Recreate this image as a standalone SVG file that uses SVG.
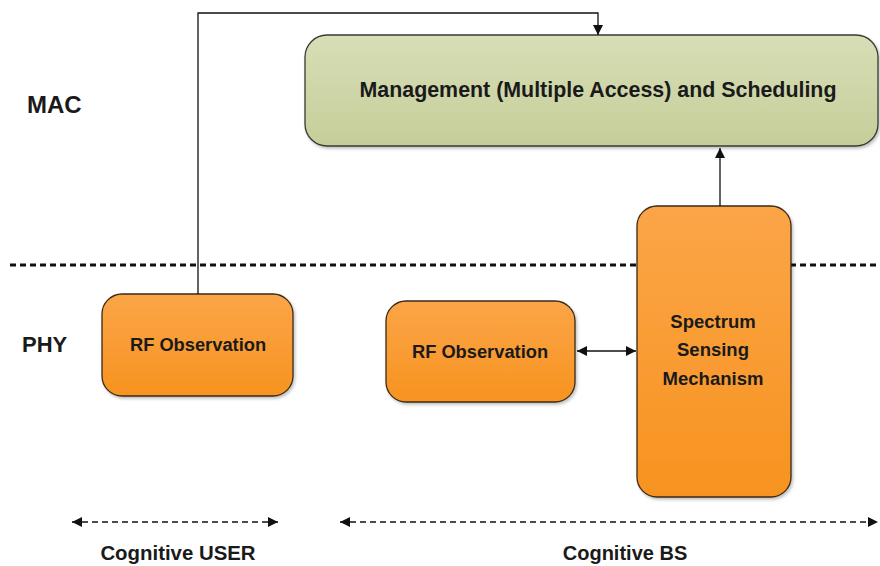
<svg xmlns="http://www.w3.org/2000/svg" width="880" height="566" viewBox="0 0 880 566">
<defs>
<linearGradient id="og" x1="0" y1="0" x2="0" y2="1"><stop offset="0" stop-color="#FBA548"/><stop offset="1" stop-color="#F7931F"/></linearGradient>
<linearGradient id="gg" x1="0" y1="0" x2="0" y2="1"><stop offset="0" stop-color="#D8DEB6"/><stop offset="1" stop-color="#C5CE9A"/></linearGradient>
<filter id="sh" x="-10%" y="-10%" width="120%" height="120%"><feDropShadow dx="1.5" dy="2" stdDeviation="1.5" flood-color="#000" flood-opacity="0.25"/></filter>
<marker id="ah" viewBox="0 0 10 10" refX="10" refY="5" markerWidth="10" markerHeight="10" markerUnits="userSpaceOnUse" orient="auto-start-reverse"><path d="M0,0 L10,5 L0,10 z" fill="#111"/></marker>
</defs>
<style>
.t{font-family:"Liberation Sans",Arial,sans-serif;font-weight:bold;fill:#1a1a1a;text-anchor:middle}
.lbl{font-family:"Liberation Sans",Arial,sans-serif;font-weight:bold;fill:#1a1a1a}
.o{fill:url(#og);stroke:#3b2a18;stroke-width:1.3;filter:url(#sh)}
.g{fill:url(#gg);stroke:#3a3a30;stroke-width:1.3;filter:url(#sh)}
.c{fill:none;stroke:#111;stroke-width:1.3}
.d{fill:none;stroke:#111;stroke-width:1.4;stroke-dasharray:6 4}
</style>
<rect width="880" height="566" fill="#fff"/>
<line x1="10" y1="265" x2="880" y2="265" stroke="#111" stroke-width="3" stroke-dasharray="6 4"/>
<text class="lbl" x="27" y="113" font-size="24">MAC</text>
<text class="lbl" x="22" y="352" font-size="22">PHY</text>
<g id="mgmt">
<rect class="g" x="305" y="35" width="573" height="111" rx="22"/>
<text class="t" x="598" y="97" font-size="21.4">Management (Multiple Access) and Scheduling</text>
</g>
<g id="rf-user">
<rect class="o" x="102" y="294" width="191" height="102" rx="20"/>
<text class="t" x="198" y="351" font-size="18.3">RF Observation</text>
</g>
<g id="rf-bs">
<rect class="o" x="386" y="301" width="189" height="101" rx="20"/>
<text class="t" x="480" y="358" font-size="18.3">RF Observation</text>
</g>
<g id="ssm">
<rect class="o" x="637" y="206" width="154" height="291" rx="20"/>
<text class="t" x="713" y="328" font-size="18.5">Spectrum</text>
<text class="t" x="713" y="356" font-size="18.5">Sensing</text>
<text class="t" x="713" y="385" font-size="18.5">Mechanism</text>
</g>
<g id="connectors">
<path class="c" d="M198,294 V13 H598 V35" marker-end="url(#ah)"/>
<path class="c" d="M720,206 V148" marker-end="url(#ah)"/>
<path class="c" d="M577,351 H636" marker-start="url(#ah)" marker-end="url(#ah)"/>
<path class="d" d="M72,522 H278" marker-start="url(#ah)" marker-end="url(#ah)"/>
<path class="d" d="M340,522 H878" marker-start="url(#ah)" marker-end="url(#ah)"/>
</g>
<text class="t" x="178" y="560" font-size="20.4">Cognitive USER</text>
<text class="t" x="625" y="560" font-size="20">Cognitive BS</text>
</svg>
